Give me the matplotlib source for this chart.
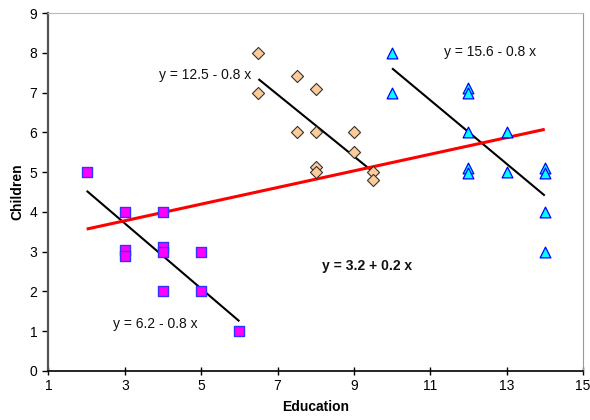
import matplotlib
matplotlib.use("Agg")
import matplotlib.pyplot as plt
import numpy as np

plt.rcParams['font.family'] = ['Liberation Sans', 'DejaVu Sans']

# Group 1 (squares)
g1_x = [2, 3, 3, 3, 4, 4, 4, 4, 5, 5, 6]
g1_y = [5, 4, 3.05, 2.9, 4, 3.12, 3.0, 2.0, 3.0, 2.0, 1.0]
# Group 2 (diamonds)
g2_x = [6.5, 6.5, 7.5, 7.5, 8, 8, 8, 8, 9, 9, 9.5, 9.5]
g2_y = [8.0, 7.0, 7.42, 6.0, 7.1, 6.0, 5.12, 5.0, 6.0, 5.5, 5.0, 4.8]
# Group 3 (triangles)
g3_x = [10, 10, 12, 12, 12, 12, 12, 13, 13, 14, 14, 14, 14]
g3_y = [8.0, 7.0, 7.12, 7.0, 6.0, 5.1, 4.97, 6.0, 5.0, 5.1, 4.97, 4.0, 3.0]

# Fitted lines as drawn: (intercept, slope, x range)
line_int = [6.17, 12.39, 15.61, 3.15]
line_slope = [-0.82, -0.777, -0.80, 0.209]
line_x0 = [2, 6.5, 10, 2]
line_x1 = [6, 9.5, 14, 14]
line_colors = ['black', 'black', 'black', 'red']
line_widths = [1.5, 1.5, 1.5, 2.2]

eq_labels = ['y = 6.2 - 0.8 x', 'y = 12.5 - 0.8 x', 'y = 15.6 - 0.8 x', 'y = 3.2 + 0.2 x']
eq_pos_x = [2.69, 3.89, 11.36, 8.16]
eq_pos_y = [1.18, 7.44, 8.02, 2.64]
eq_weight = ['normal', 'normal', 'normal', 'bold']

x_ticks = [1, 3, 5, 7, 9, 11, 13, 15]
y_ticks = list(range(0, 10))

fig = plt.figure(figsize=(5.9, 4.2), dpi=100)
ax = fig.add_axes([0.0822, 0.1167, 0.9058, 0.8523])

for i in range(4):
    xs = np.array([line_x0[i], line_x1[i]])
    ax.plot(xs, line_int[i] + line_slope[i] * xs, color=line_colors[i],
            lw=line_widths[i], zorder=2, solid_capstyle='butt')

ax.scatter(g1_x, g1_y, marker='s', s=52, facecolor='#FF00FF', edgecolor='#3333FF', linewidth=1.0, zorder=3)
ax.scatter(g2_x, g2_y, marker='D', s=38, facecolor='#FFCC99', edgecolor='#333333', linewidth=0.8, zorder=3)
ax.scatter(g3_x, g3_y, marker='^', s=60, facecolor='#00FFFF', edgecolor='#0000FF', linewidth=0.9, zorder=3)

for lab, x, y, w in zip(eq_labels, eq_pos_x, eq_pos_y, eq_weight):
    ax.text(x, y, lab, fontsize=10, fontweight=w, ha='left', va='center', color='#111111')

ax.set_xlim(1, 15)
ax.set_ylim(0, 9)
ax.set_xticks(x_ticks)
ax.set_yticks(y_ticks)
ax.tick_params(axis='x', direction='inout', length=6, width=1, labelsize=10, pad=3)
ax.tick_params(axis='y', direction='out', length=4, width=1, labelsize=10, pad=4)

ax.spines['left'].set_color('#555555')
ax.spines['left'].set_linewidth(1.6)
ax.spines['bottom'].set_color('black')
ax.spines['bottom'].set_linewidth(1.2)
ax.spines['top'].set_color('#BBBBBB')
ax.spines['right'].set_color('#999999')

ax.set_xlabel('Education', fontsize=10, fontweight='bold', labelpad=5)
ax.set_ylabel('Children', fontsize=10, fontweight='bold', labelpad=4)

fig.savefig('out.png', dpi=100)
